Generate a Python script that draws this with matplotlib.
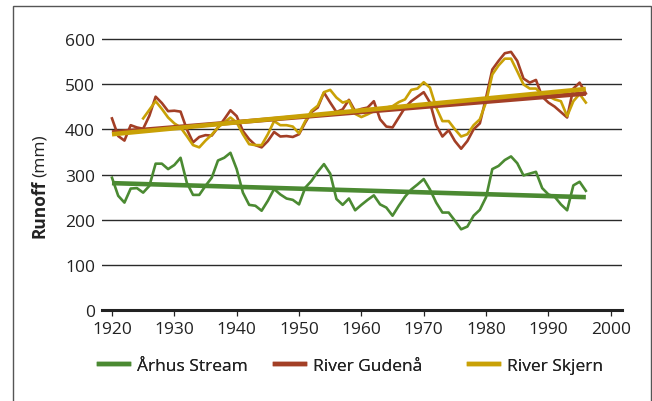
import numpy as np
import matplotlib
matplotlib.use("Agg")
import matplotlib.pyplot as plt
from matplotlib.lines import Line2D
from matplotlib.patches import Rectangle

plt.rcParams['font.family'] = ['Open Sans', 'DejaVu Sans']

# annual runoff (mm)
years = np.arange(1920, 1997)
aarhus = [293, 253, 238, 269, 270, 260, 275, 324, 324, 312,
          321, 337, 282, 255, 255, 275, 293, 331, 337, 348,
          312, 260, 233, 231, 220, 242, 268, 256, 247, 244,
          234, 271, 286, 306, 323, 302, 246, 233, 247, 221,
          233, 244, 254, 234, 227, 209, 231, 251, 267, 278,
          290, 267, 238, 216, 216, 198, 179, 185, 209, 222,
          250, 312, 319, 332, 340, 325, 298, 302, 306, 270,
          256, 251, 234, 221, 276, 284, 264]
gudenaa = [424, 385, 375, 409, 404, 401, 430, 472, 458, 440,
           441, 439, 400, 371, 383, 387, 386, 404, 422, 442,
           429, 396, 378, 365, 360, 374, 394, 384, 385, 383,
           389, 415, 438, 448, 481, 459, 438, 444, 465, 440,
           445, 448, 462, 422, 406, 404, 426, 448, 462, 472,
           482, 459, 409, 384, 398, 374, 357, 374, 400, 413,
           470, 532, 551, 568, 571, 551, 512, 503, 509, 472,
           459, 450, 438, 426, 490, 503, 479]
# Skjern series starts in 1925
skjern_years = np.arange(1925, 1997)
skjern = [424, 443, 462, 445, 426,
          413, 404, 385, 365, 360, 375, 388, 404, 415, 426,
          415, 389, 367, 365, 365, 389, 418, 409, 409, 406,
          391, 418, 441, 452, 482, 487, 470, 459, 463, 434,
          427, 433, 440, 444, 448, 451, 460, 466, 487, 490,
          504, 492, 448, 418, 418, 400, 384, 389, 409, 422,
          460, 521, 541, 556, 556, 528, 499, 490, 490, 477,
          473, 466, 462, 429, 462, 478, 459]

# trend lines (values at first and last year)
trend_years = [1920, 1996]
aarhus_trend = [281, 250]
gudenaa_trend = [393, 479]
skjern_trend = [389, 489]

names = ['Århus Stream', 'River Gudenå', 'River Skjern']
c_green = '#4b8a32'
c_red = '#a33f26'
c_yellow = '#c9a106'
fs = 12.5

fig = plt.figure(figsize=(6.52, 4.02), dpi=100)
ax = fig.add_axes([102/652, 90.7/402, 520/652, 272/402])

ax.plot(years, aarhus, color=c_green, lw=1.9, zorder=3)
ax.plot(years, gudenaa, color=c_red, lw=1.9, zorder=3)
ax.plot(skjern_years, skjern, color=c_yellow, lw=1.9, zorder=3)

ax.plot(trend_years, aarhus_trend, color=c_green, lw=3.3, zorder=4, solid_capstyle='butt')
ax.plot(trend_years, gudenaa_trend, color=c_red, lw=3.3, zorder=4, solid_capstyle='butt')
ax.plot(trend_years, skjern_trend, color=c_yellow, lw=3.3, zorder=5, solid_capstyle='butt')

ax.set_xlim(1918.4, 2001.8)
ax.set_ylim(0, 601)
ax.set_xticks(range(1920, 2001, 10))
ax.set_yticks(range(0, 601, 100))
ax.tick_params(axis='x', length=4.5, width=0.9, color='#222222', pad=3,
               labelsize=fs, labelcolor='#222222')
ax.tick_params(axis='y', length=0, pad=5, labelsize=fs, labelcolor='#222222')

for s in ['top', 'right', 'left']:
    ax.spines[s].set_visible(False)
ax.spines['bottom'].set_linewidth(2.2)
ax.spines['bottom'].set_color('#222222')
ax.spines['bottom'].set_zorder(6)

ax.yaxis.grid(True, color='#2a2a2a', linewidth=1.0)
ax.set_axisbelow(True)

# y label: bold word + normal unit
fig.text(40/652, 1 - 238/402, 'Runoff', rotation=90, fontsize=fs,
         fontweight='bold', ha='center', va='bottom', color='#222222')
fig.text(40/652, 1 - 177/402, '(mm)', rotation=90, fontsize=fs,
         ha='center', va='bottom', color='#222222')

# legend entries placed one by one
legend_x = [96, 272, 466]
for name, col, lx in zip(names, [c_green, c_red, c_yellow], legend_x):
    h = Line2D([], [], color=col, lw=3.2)
    lg = fig.legend([h], [name], loc='center left',
                    bbox_to_anchor=(lx/652, 1 - 367/402), frameon=False,
                    fontsize=fs, handlelength=1.7, handletextpad=0.45,
                    borderaxespad=0, borderpad=0.2, labelcolor='#222222')
    fig.add_artist(lg)

# outer frame
fig.add_artist(Rectangle((13/652, -0.1), (651 - 13)/652, 1.1 - 7/402,
                         transform=fig.transFigure, fill=False,
                         lw=1.0, ec='#555555'))

fig.savefig('out.png', dpi=100)
